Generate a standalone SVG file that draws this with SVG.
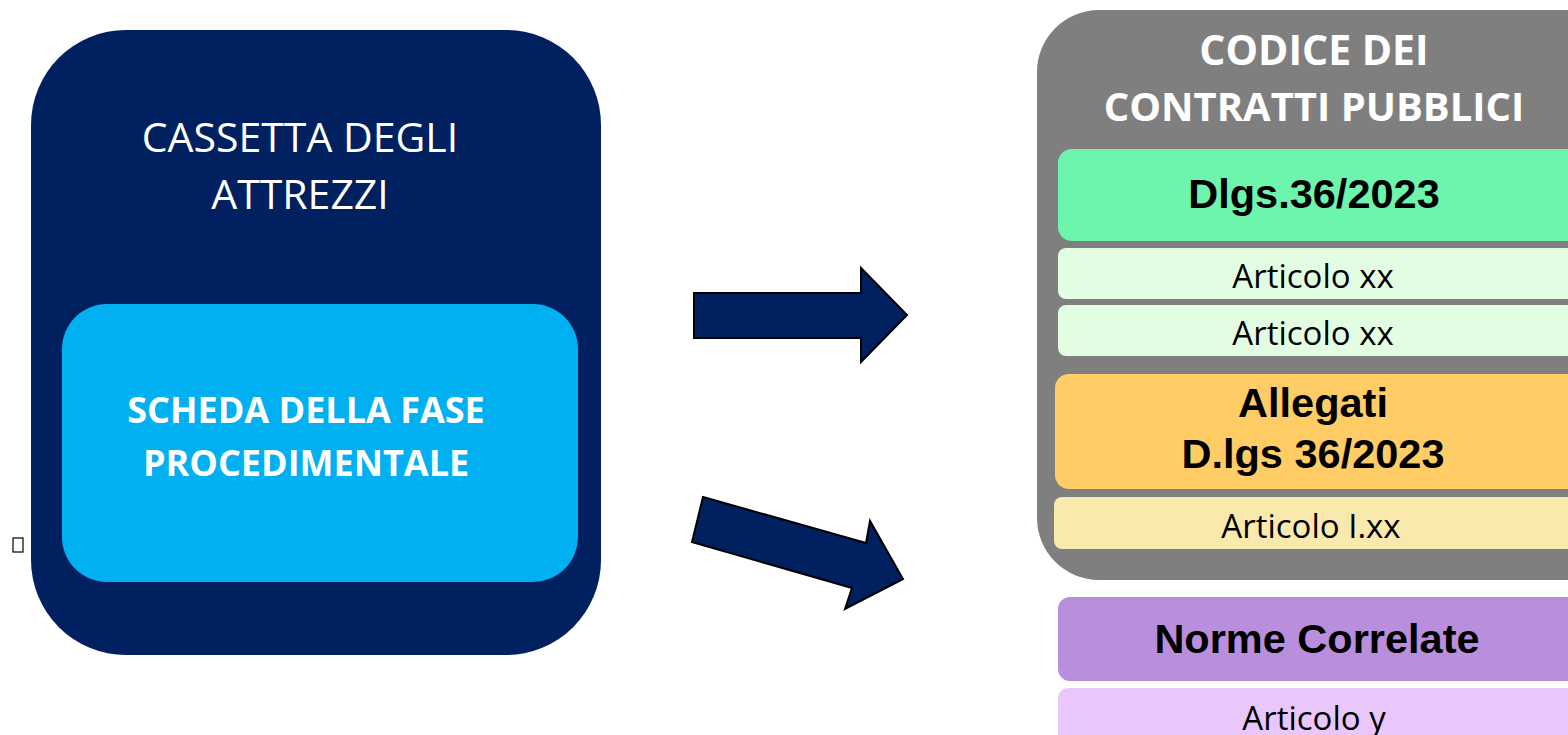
<svg xmlns="http://www.w3.org/2000/svg" width="1568" height="735" viewBox="0 0 1568 735">
<style>
.cal{font-family:"Open Sans","Noto Sans",sans-serif}
.ar{font-family:"Liberation Sans",Arial,sans-serif;font-weight:bold;fill:#000}
.w{fill:#fff}
.k{fill:#000}
.arrow{fill:#002060;stroke:#000;stroke-width:2;stroke-linejoin:miter}
</style>
<rect width="1568" height="735" fill="#fff"/>
<g id="cassetta">
<rect x="31" y="30" width="570" height="625" rx="95" ry="95" fill="#002060"/>
<text class="cal w" x="300" y="152" font-size="41" text-anchor="middle">CASSETTA DEGLI</text>
<text class="cal w" x="300" y="209" font-size="41" text-anchor="middle">ATTREZZI</text>
</g>
<g id="scheda">
<rect x="62" y="304" width="516" height="278" rx="45" ry="45" fill="#00b0f0"/>
<text class="cal w" x="306" y="423" font-size="36" font-weight="bold" text-anchor="middle">SCHEDA DELLA FASE</text>
<text class="cal w" x="306" y="476" font-size="36" font-weight="bold" text-anchor="middle">PROCEDIMENTALE</text>
</g>
<g id="marker-box">
<rect x="13" y="538" width="10" height="14" fill="none" stroke="#000" stroke-width="1.2"/>
</g>
<g id="connectors">
<polygon class="arrow" points="694,293 861,293 861,268 907,315 861,362 861,338 694,338"/>
<polygon class="arrow" points="703,497 866,543 870,521 903,579 845,609 852,588 692,542"/>
</g>
<g id="codice">
<rect x="1037" y="10" width="600" height="570" rx="62" ry="62" fill="#7f7f7f"/>
<text class="cal w" x="1314" y="65" font-size="41" font-weight="bold" text-anchor="middle">CODICE DEI</text>
<text class="cal w" x="1314" y="121" font-size="40" font-weight="bold" text-anchor="middle">CONTRATTI PUBBLICI</text>
</g>
<g id="dlgs">
<rect x="1058" y="149" width="530" height="92" rx="14" ry="14" fill="#6ef5ad"/>
<text class="ar" x="1314" y="208" font-size="41.5" text-anchor="middle">Dlgs.36/2023</text>
</g>
<g id="art1">
<rect x="1058" y="248" width="530" height="51" rx="8" ry="8" fill="#e2fde2"/>
<text class="cal k" x="1313" y="288" font-size="33" text-anchor="middle">Articolo xx</text>
</g>
<g id="art2">
<rect x="1058" y="305" width="530" height="51" rx="8" ry="8" fill="#e2fde2"/>
<text class="cal k" x="1313" y="345" font-size="33" text-anchor="middle">Articolo xx</text>
</g>
<g id="allegati">
<rect x="1055" y="374" width="533" height="115" rx="14" ry="14" fill="#ffcc66"/>
<text class="ar" x="1313" y="417" font-size="41.5" text-anchor="middle">Allegati</text>
<text class="ar" x="1313" y="468" font-size="41.5" text-anchor="middle">D.lgs 36/2023</text>
</g>
<g id="art-lxx">
<rect x="1054" y="497" width="534" height="52" rx="8" ry="8" fill="#f9e9ad"/>
<text class="cal k" x="1311" y="538" font-size="33" text-anchor="middle">Articolo I.xx</text>
</g>
<g id="norme">
<rect x="1058" y="597" width="530" height="84" rx="12" ry="12" fill="#b98fdd"/>
<text class="ar" x="1317" y="653" font-size="41.5" text-anchor="middle">Norme Correlate</text>
</g>
<g id="art-y">
<rect x="1058" y="688" width="530" height="60" rx="10" ry="10" fill="#e9c6fc"/>
<text class="cal k" x="1314" y="730" font-size="33" text-anchor="middle">Articolo y</text>
</g>
</svg>
